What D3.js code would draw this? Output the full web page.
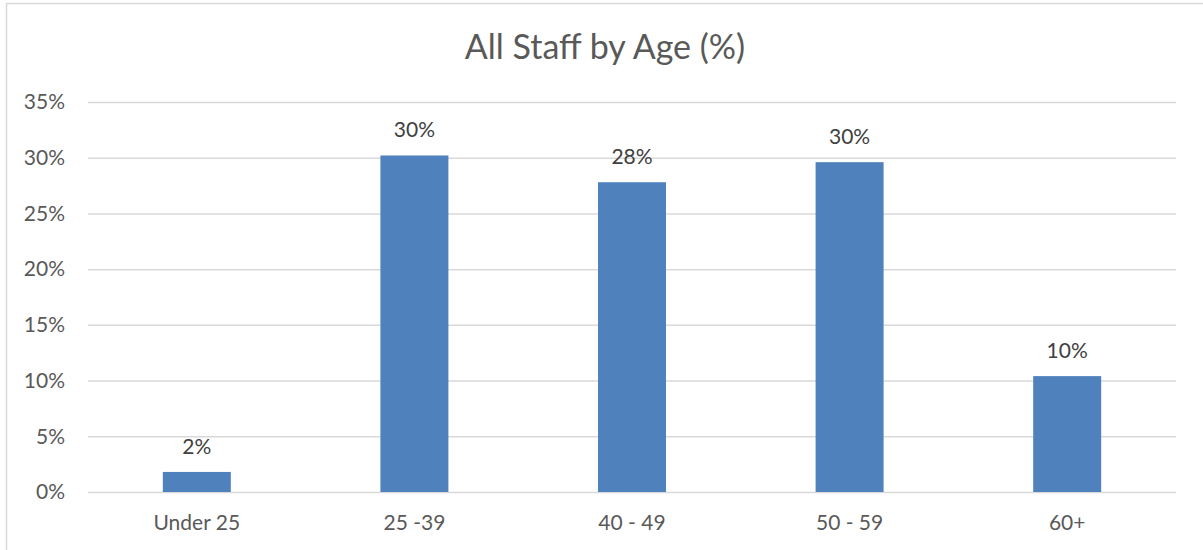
<!DOCTYPE html>
<html>
<head>
<meta charset="utf-8">
<script src="https://cdn.jsdelivr.net/npm/d3@7"></script>
<style>
  html, body { margin: 0; padding: 0; background: #fff; }
  svg { display: block; font-family: Lato, "Open Sans", sans-serif; }
</style>
</head>
<body>
<svg id="chart" width="1203" height="550"></svg>
<script>
// Share of all staff in each age band (fractions of 1)
const ageBands = ["Under 25", "25 -39", "40 - 49", "50 - 59", "60+"];
const staffShare = [0.018, 0.302, 0.278, 0.296, 0.104];
const yTicks = [0, 0.05, 0.10, 0.15, 0.20, 0.25, 0.30, 0.35];
const chartTitle = "All Staff by Age (%)";

const rows = ageBands.map((band, i) => ({ band, value: staffShare[i] }));

const svg = d3.select("#chart");
const W = 1203, H = 550;
const plot = { left: 88, right: 1176, top: 102, bottom: 492 };

const x = d3.scaleBand()
  .domain(ageBands)
  .range([plot.left, plot.right])
  .paddingInner(0.6875)
  .paddingOuter(0.34375);

const y = d3.scaleLinear()
  .domain([0, 0.35])
  .range([plot.bottom, plot.top]);

const pct = d3.format(".0%");

// chart frame (top and left edges)
svg.append("path")
  .attr("d", `M6.5,${H} L6.5,3.5 L${W},3.5`)
  .attr("fill", "none")
  .attr("stroke", "#d9d9d9")
  .attr("stroke-width", 1.5);

// title
svg.append("text")
  .attr("x", 605)
  .attr("y", 59)
  .attr("text-anchor", "middle")
  .attr("fill", "#595959")
  .style("font-size", "34px")
  .text(chartTitle);

// horizontal gridlines with percentage labels
const yAxis = d3.axisLeft(y)
  .tickValues(yTicks)
  .tickFormat(pct)
  .tickSize(-(plot.right - plot.left))
  .tickPadding(23);

const gy = svg.append("g")
  .attr("transform", `translate(${plot.left},0)`)
  .call(yAxis);
gy.select(".domain").remove();
gy.selectAll(".tick line")
  .attr("stroke", "#d9d9d9")
  .attr("stroke-width", 1.5);
gy.selectAll(".tick text")
  .attr("fill", "#595959")
  .style("font-size", "21px")
  .style("font-family", "Lato, 'Open Sans', sans-serif");

// category axis labels
const xAxis = d3.axisBottom(x).tickSize(0).tickPadding(23);
const gx = svg.append("g")
  .attr("transform", `translate(0,${plot.bottom})`)
  .call(xAxis);
gx.select(".domain").remove();
gx.selectAll(".tick text")
  .attr("fill", "#595959")
  .style("font-size", "21px")
  .style("font-family", "Lato, 'Open Sans', sans-serif");

// bars
svg.append("g")
  .selectAll("rect")
  .data(rows)
  .join("rect")
  .attr("x", d => x(d.band))
  .attr("width", x.bandwidth())
  .attr("y", d => y(d.value))
  .attr("height", d => y(0) - y(d.value))
  .attr("fill", "#4f81bd");

// value labels above bars
svg.append("g")
  .selectAll("text")
  .data(rows)
  .join("text")
  .attr("x", d => x(d.band) + x.bandwidth() / 2)
  .attr("y", d => y(d.value) - 18)
  .attr("text-anchor", "middle")
  .attr("fill", "#404040")
  .style("font-size", "21px")
  .text(d => pct(d.value));
</script>
</body>
</html>
